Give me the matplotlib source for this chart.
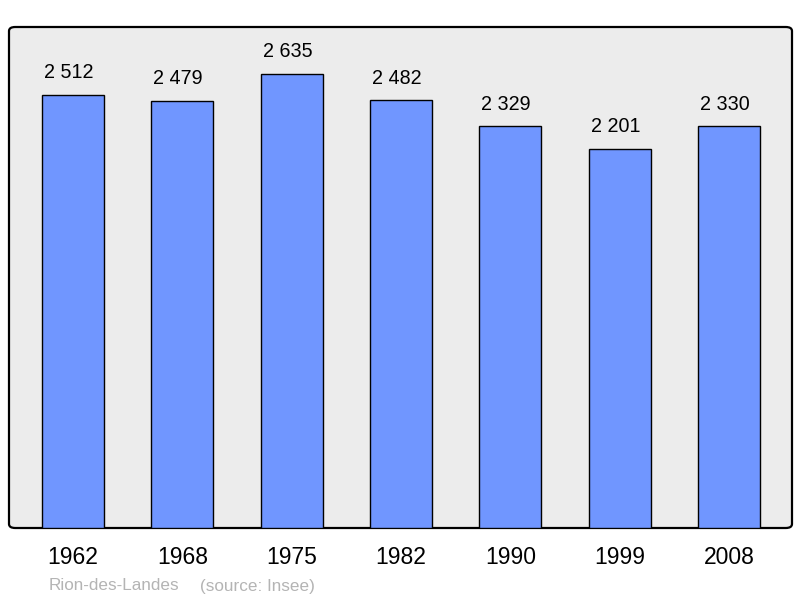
import matplotlib
matplotlib.use("Agg")
import matplotlib.pyplot as plt
from matplotlib.patches import FancyBboxPatch

years = ["1962", "1968", "1975", "1982", "1990", "1999", "2008"]
population = [2512, 2479, 2635, 2482, 2329, 2201, 2330]
value_labels = ["2 512", "2 479", "2 635", "2 482", "2 329", "2 201", "2 330"]
place = "Rion-des-Landes"
source = "(source: Insee)"

plt.rcParams["font.family"] = ["Liberation Sans", "DejaVu Sans"]

fig = plt.figure(figsize=(8, 5.98), dpi=100)
ax = fig.add_axes([9 / 800, 70 / 598, 783 / 800, 501 / 598])
ax.set_facecolor("none")

# rounded grey panel behind the bars
panel = FancyBboxPatch((0, 0), 1, 1,
                       boxstyle="round,pad=0,rounding_size=0.008",
                       transform=ax.transAxes, facecolor="#ececec",
                       edgecolor="black", linewidth=1.6, zorder=0,
                       clip_on=False)
ax.add_patch(panel)

x = range(len(years))
ax.bar(x, population, width=0.567, color="#7096ff", edgecolor="black",
       linewidth=1.0, zorder=2)

for i, (v, lab) in enumerate(zip(population, value_labels)):
    ax.annotate(lab, (i, v), xytext=(-3, 9), textcoords="offset points",
                ha="center", va="bottom", fontsize=14.2, color="black")

ax.set_xlim(-0.585, 6.576)
ax.set_ylim(0, 2906)
for s in ax.spines.values():
    s.set_visible(False)
ax.set_yticks([])
ax.set_xticks(list(x))
ax.set_xticklabels(years, fontsize=16.5)
ax.tick_params(axis="x", length=0, pad=13)

fig.text(49 / 800, 1 - 586 / 598, place, fontsize=12.3, color="#b4b4b4",
         va="center", ha="left")
fig.text(200 / 800, 1 - 586 / 598, source, fontsize=12.3, color="#b4b4b4",
         va="center", ha="left")

fig.savefig("out.png", dpi=100)
